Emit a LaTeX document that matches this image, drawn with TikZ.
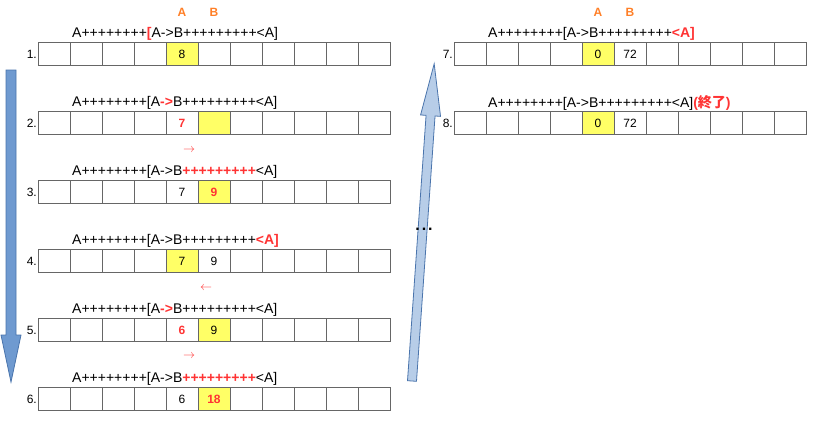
\documentclass[tikz,border=0pt]{standalone}
\usepackage{fontspec}
\setmainfont{Liberation Sans}
\newfontfamily\cjk{Noto Sans CJK JP}
\definecolor{cellyel}{HTML}{FFFF66}
\definecolor{rd}{HTML}{FF3333}
\definecolor{org}{HTML}{FF7F27}
\definecolor{darr}{HTML}{6F9AD0}
\definecolor{uarr}{HTML}{B7CDE8}
\definecolor{arrline}{HTML}{4A74AC}
\tikzset{
 cell/.style={draw=black!60,line width=0.9pt,minimum width=32pt,minimum height=23pt,inner sep=0pt,font=\fontsize{12}{14}\selectfont},
 hl/.style={cell,fill=cellyel},
 code/.style={anchor=west,inner sep=0pt,font=\fontsize{14}{16}\selectfont},
 lbl/.style={anchor=east,inner sep=0pt,font=\fontsize{12}{14}\selectfont},
 ab/.style={text=org,font=\fontsize{12}{14}\selectfont\bfseries},
 stp/.style={text=rd,font=\fontsize{12}{14}\selectfont},
 bigarr/.style={draw=arrline,line width=0.8pt}
}
\newcommand{\mkrow}[6]{% name, x0, y, hlindex, val4, val5
 \foreach \i in {0,...,10}{
  \ifnum\i=#4\relax
   \node[hl] (#1c\i) at (#2+16+32*\i,#3) {};
  \else
   \node[cell] (#1c\i) at (#2+16+32*\i,#3) {};
  \fi}
 \node[inner sep=0pt,font=\fontsize{12}{14}\selectfont] (#1v4) at (#1c4) {#5};
 \node[inner sep=0pt,font=\fontsize{12}{14}\selectfont] (#1v5) at (#1c5) {#6};
}
\begin{document}
\begin{tikzpicture}[x=1pt,y=-1pt]
\useasboundingbox (0,0) rectangle (820,440);
\node[ab] (la) at (182,12) {A};
\node[ab] (lb) at (214,12) {B};
\node[ab] (ra) at (598,12) {A};
\node[ab] (rb) at (630,12) {B};
\mkrow{r1}{38}{54}{4}{8}{}
\mkrow{r2}{38}{123}{5}{\textcolor{rd}{\bfseries 7}}{}
\mkrow{r3}{38}{192}{5}{7}{\textcolor{rd}{\bfseries 9}}
\mkrow{r4}{38}{261}{4}{7}{9}
\mkrow{r5}{38}{330}{5}{\textcolor{rd}{\bfseries 6}}{9}
\mkrow{r6}{38}{399}{5}{6}{\textcolor{rd}{\bfseries 18}}
\mkrow{r7}{454}{54}{4}{0}{72}
\mkrow{r8}{454}{123}{4}{0}{72}
\foreach \n/\y in {1/54,2/123,3/192,4/261,5/330,6/399}{\node[lbl] (n\n) at (37,\y) {\n.};}
\node[lbl] (n7) at (453,54) {7.};
\node[lbl] (n8) at (453,123) {8.};
\node[code] (t1) at (72,34) {A++++++++\textcolor{rd}{\bfseries [}A->B+++++++++<A]};
\node[code] (t2) at (72,103) {A++++++++[A\textcolor{rd}{\bfseries ->}B+++++++++<A]};
\node[code] (t3) at (72,172) {A++++++++[A->B\textcolor{rd}{\bfseries +++++++++}<A]};
\node[code] (t4) at (72,241) {A++++++++[A->B+++++++++\textcolor{rd}{\bfseries <A]}};
\node[code] (t5) at (72,310) {A++++++++[A\textcolor{rd}{\bfseries ->}B+++++++++<A]};
\node[code] (t6) at (72,379) {A++++++++[A->B\textcolor{rd}{\bfseries +++++++++}<A]};
\node[code] (t7) at (488,34) {A++++++++[A->B+++++++++\textcolor{rd}{\bfseries <A]}};
\node[code] (t8) at (488,103) {A++++++++[A->B+++++++++<A]\textcolor{rd}{\bfseries ({\cjk 終了})}};
\node[stp] (s1) at (189,150) {$\rightarrow$};
\node[stp] (s2) at (206,288) {$\leftarrow$};
\node[stp] (s3) at (189,356) {$\rightarrow$};
% down arrow
\filldraw[bigarr,fill=darr] (6,70) -- (16,70) -- (16,335) -- (21,335) -- (11,382) -- (1,335) -- (6,335) -- cycle;
% up arrow
\begin{scope}[shift={(412,381)},rotate=-4]
\filldraw[bigarr,fill=uarr] (-4.5,0) -- (4.5,0) -- (4.5,-266) -- (10,-266) -- (0,-318) -- (-10,-266) -- (-4.5,-266) -- cycle;
\end{scope}
\node[font=\bfseries\fontsize{16}{16}\selectfont] (dots) at (424,229) {.\hspace{2pt}.\hspace{2pt}.};
\end{tikzpicture}
\end{document}
